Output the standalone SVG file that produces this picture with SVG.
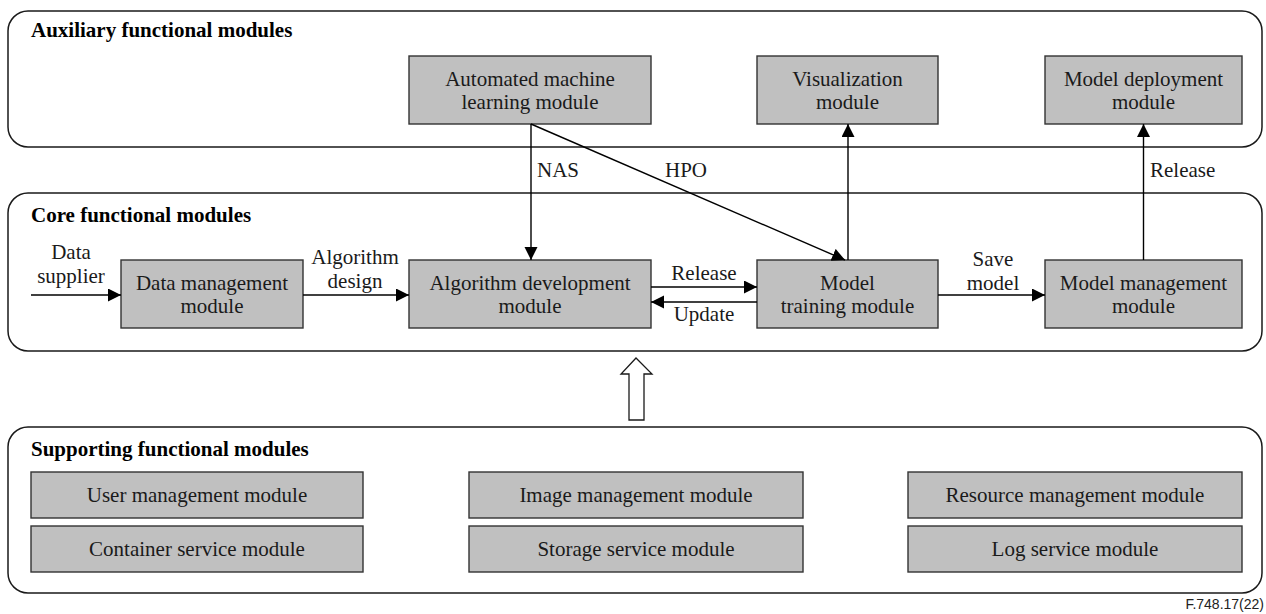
<svg xmlns="http://www.w3.org/2000/svg" width="1266" height="614" viewBox="0 0 1266 614">
  <style>
    .frame { fill: #ffffff; stroke: #1a1a1a; stroke-width: 1.5; }
    .box { fill: #c0c0c0; stroke: #333333; stroke-width: 1.4; }
    .title { font-family: "Liberation Serif", "Times New Roman", serif; font-weight: bold; font-size: 21px; fill: #000; }
    .txt { font-family: "Liberation Serif", "Times New Roman", serif; font-size: 21px; fill: #1a1a1a; text-anchor: middle; }
    .lbl { font-family: "Liberation Serif", "Times New Roman", serif; font-size: 21px; fill: #1a1a1a; }
    .mid { text-anchor: middle; }
    .wire { fill: none; stroke: #000; stroke-width: 1.4; marker-end: url(#head); }
    .fig { font-family: "Liberation Sans", Arial, sans-serif; font-size: 14px; fill: #222; text-anchor: end; }
  </style>
  <defs>
    <marker id="head" markerUnits="userSpaceOnUse" markerWidth="14" markerHeight="14" refX="13" refY="6.5" orient="auto">
      <path d="M0,0 L13,6.5 L0,13 z" fill="#000"/>
    </marker>
  </defs>

  <rect width="1266" height="614" fill="#ffffff"/>

  <!-- Layer frames -->
  <g id="auxiliary-layer">
    <rect class="frame" x="8" y="11" width="1254" height="136" rx="20" ry="20"/>
    <text class="title" x="31" y="37">Auxiliary functional modules</text>
  </g>
  <g id="core-layer">
    <rect class="frame" x="8" y="193" width="1254" height="158" rx="20" ry="20"/>
    <text class="title" x="31" y="222">Core functional modules</text>
  </g>
  <g id="supporting-layer">
    <rect class="frame" x="8" y="427" width="1254" height="166" rx="20" ry="20"/>
    <text class="title" x="31" y="456">Supporting functional modules</text>
  </g>

  <!-- Auxiliary modules -->
  <g id="automl">
    <rect class="box" x="409" y="56" width="242" height="68"/>
    <text class="txt" x="530" y="86">Automated machine</text>
    <text class="txt" x="530" y="109">learning module</text>
  </g>
  <g id="visualization">
    <rect class="box" x="757" y="56" width="181" height="68"/>
    <text class="txt" x="847.5" y="86">Visualization</text>
    <text class="txt" x="847.5" y="109">module</text>
  </g>
  <g id="model-deployment">
    <rect class="box" x="1045" y="56" width="197" height="68"/>
    <text class="txt" x="1143.5" y="86">Model deployment</text>
    <text class="txt" x="1143.5" y="109">module</text>
  </g>

  <!-- Core modules -->
  <g id="data-management">
    <rect class="box" x="121" y="260" width="182" height="68"/>
    <text class="txt" x="212" y="290">Data management</text>
    <text class="txt" x="212" y="313">module</text>
  </g>
  <g id="algorithm-development">
    <rect class="box" x="409" y="260" width="242" height="68"/>
    <text class="txt" x="530" y="290">Algorithm development</text>
    <text class="txt" x="530" y="313">module</text>
  </g>
  <g id="model-training">
    <rect class="box" x="757" y="260" width="181" height="68"/>
    <text class="txt" x="847.5" y="290">Model</text>
    <text class="txt" x="847.5" y="313">training module</text>
  </g>
  <g id="model-management">
    <rect class="box" x="1045" y="260" width="197" height="68"/>
    <text class="txt" x="1143.5" y="290">Model management</text>
    <text class="txt" x="1143.5" y="313">module</text>
  </g>

  <!-- Supporting modules -->
  <g id="user-management">
    <rect class="box" x="31" y="472" width="332" height="46"/>
    <text class="txt" x="197" y="502">User management module</text>
  </g>
  <g id="container-service">
    <rect class="box" x="31" y="526" width="332" height="46"/>
    <text class="txt" x="197" y="556">Container service module</text>
  </g>
  <g id="image-management">
    <rect class="box" x="469" y="472" width="334" height="46"/>
    <text class="txt" x="636" y="502">Image management module</text>
  </g>
  <g id="storage-service">
    <rect class="box" x="469" y="526" width="334" height="46"/>
    <text class="txt" x="636" y="556">Storage service module</text>
  </g>
  <g id="resource-management">
    <rect class="box" x="908" y="472" width="334" height="46"/>
    <text class="txt" x="1075" y="502">Resource management module</text>
  </g>
  <g id="log-service">
    <rect class="box" x="908" y="526" width="334" height="46"/>
    <text class="txt" x="1075" y="556">Log service module</text>
  </g>

  <!-- Connectors -->
  <g id="connectors">
    <!-- data input -->
    <line class="wire" x1="31" y1="295" x2="121" y2="295"/>
    <text class="lbl mid" x="71" y="259">Data</text>
    <text class="lbl mid" x="71" y="283">supplier</text>

    <!-- algorithm design -->
    <line class="wire" x1="303" y1="295" x2="409" y2="295"/>
    <text class="lbl mid" x="355" y="264">Algorithm</text>
    <text class="lbl mid" x="355" y="288">design</text>

    <!-- release / update between development and training -->
    <line class="wire" x1="651" y1="287" x2="757" y2="287"/>
    <text class="lbl mid" x="704" y="280">Release</text>
    <line class="wire" x1="757" y1="302" x2="651" y2="302"/>
    <text class="lbl mid" x="704" y="321">Update</text>

    <!-- save model -->
    <line class="wire" x1="938" y1="295" x2="1045" y2="295"/>
    <text class="lbl mid" x="993" y="266">Save</text>
    <text class="lbl mid" x="993" y="290">model</text>

    <!-- NAS -->
    <line class="wire" x1="531" y1="124" x2="531" y2="260"/>
    <text class="lbl" x="537" y="177">NAS</text>

    <!-- HPO -->
    <line class="wire" x1="531" y1="124" x2="845" y2="260"/>
    <text class="lbl" x="665" y="177">HPO</text>

    <!-- training to visualization -->
    <line class="wire" x1="848" y1="260" x2="848" y2="124"/>

    <!-- release to deployment -->
    <line class="wire" x1="1143.5" y1="260" x2="1143.5" y2="124"/>
    <text class="lbl" x="1150" y="177">Release</text>

    <!-- support layer feeding the core layer -->
    <path d="M629,420 L629,374 L621,374 L636,358 L652,374 L644,374 L644,420 Z" fill="#ffffff" stroke="#1a1a1a" stroke-width="1.3"/>
  </g>

  <text class="fig" x="1264" y="609">F.748.17(22)</text>
</svg>
